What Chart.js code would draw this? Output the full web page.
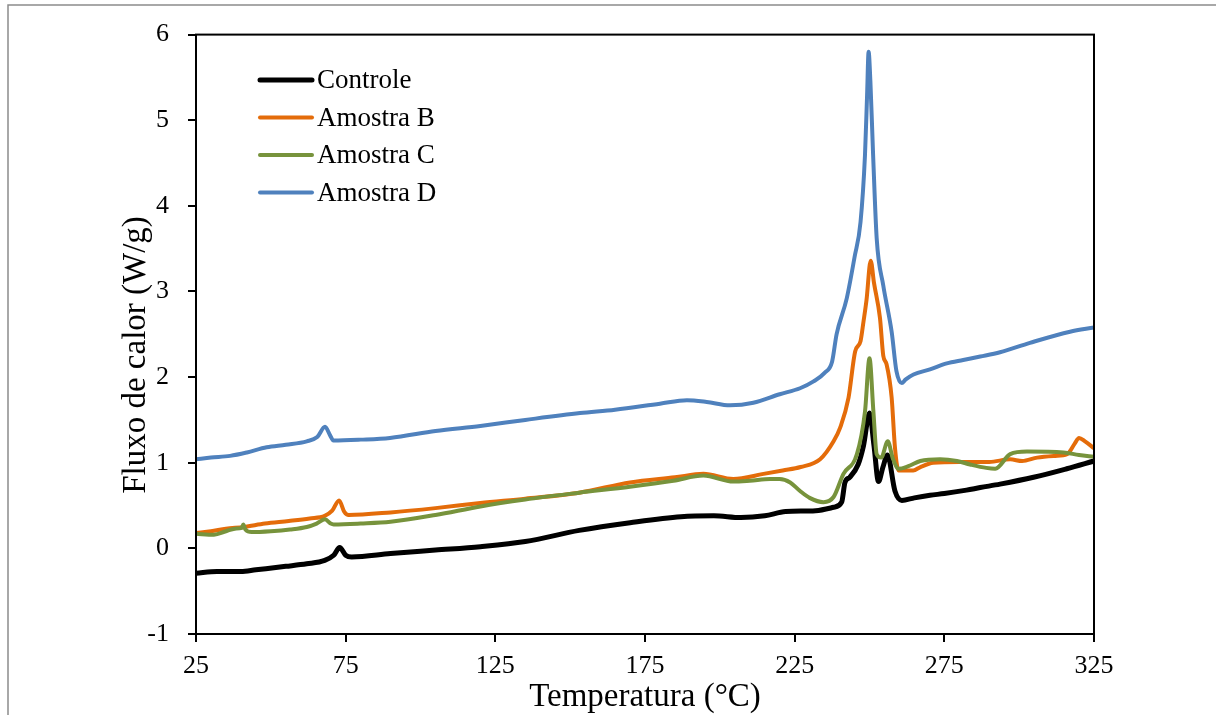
<!DOCTYPE html>
<html>
<head>
<meta charset="utf-8">
<script src="https://cdn.jsdelivr.net/npm/chart.js@4/dist/chart.umd.min.js"></script>
<style>
html,body{margin:0;padding:0;background:#fff;}
#wrap{width:1216px;height:715px;position:relative;}
</style>
</head>
<body>
<div id="wrap"><canvas id="c" width="1216" height="715"></canvas></div>
<script>
// ---- data ----
const seriesLabels = ["Controle", "Amostra B", "Amostra C", "Amostra D"];
const seriesColors = ["#000000", "#E46C0A", "#77933C", "#4F81BD"];

const controleTemp = [25,32,40,45,55,62,68,71,73,75,77,90,105,120,135,153,170,187,198,207,215,222,232,238,240.7,241.8,243.4,246.2,248,250,251.5,253,254.5,256,258.5,260.8,265,270.2,275,282.4,287,293.6,304.8,315.9,325];
const controleFlux = [-0.29,-0.27,-0.27,-0.25,-0.21,-0.18,-0.14,-0.08,0.01,-0.08,-0.10,-0.06,-0.02,0.02,0.08,0.21,0.30,0.37,0.38,0.36,0.38,0.43,0.44,0.48,0.54,0.77,0.83,0.98,1.20,1.58,1.20,0.78,0.95,1.09,0.67,0.56,0.59,0.62,0.64,0.68,0.71,0.75,0.83,0.93,1.02];

const amostraBTemp = [25,30,35,41,48,56,63,68,70.5,72.8,74.5,76,90,105,120,135,153,170,185,194.5,204.5,214.6,221,227,233.5,238,240.2,243,245.2,247,248,249,250.4,251.5,253.5,254.6,255.7,257.4,258.5,259.7,264.6,267,271.3,280,290,297,301,306,312,316,318.5,320,322,325];
const amostraBFlux = [0.18,0.20,0.23,0.25,0.29,0.32,0.35,0.38,0.44,0.56,0.43,0.39,0.42,0.47,0.53,0.58,0.65,0.77,0.83,0.87,0.81,0.87,0.91,0.95,1.04,1.25,1.41,1.76,2.30,2.42,2.65,2.90,3.36,3.10,2.69,2.25,2.15,1.76,1.18,0.91,0.91,0.95,1.00,1.01,1.01,1.04,1.02,1.06,1.08,1.10,1.22,1.29,1.25,1.17];

const amostraCTemp = [25,31,35,38,40.3,40.8,41.5,43.6,50,56.4,62,65.3,68.1,70,71,80,90,105,120,135,153,170,184.5,194.5,204.5,210,216.8,220,223.5,226.8,230,234.6,238,241.3,245.8,248.5,250,251.3,252.4,253.9,256.1,257.8,259.7,263,267,273.6,279.2,283.6,289,292,297,302.6,314.8,320,325];
const amostraCFlux = [0.17,0.16,0.20,0.23,0.24,0.28,0.22,0.19,0.20,0.22,0.25,0.29,0.34,0.29,0.28,0.29,0.31,0.39,0.49,0.57,0.65,0.72,0.79,0.85,0.78,0.79,0.81,0.81,0.77,0.67,0.59,0.54,0.60,0.87,1.10,1.60,2.22,1.60,1.10,1.06,1.25,1.05,0.93,0.96,1.02,1.04,1.02,0.98,0.94,0.93,1.10,1.13,1.12,1.09,1.07];

const amostraDTemp = [25,30,36.4,42,48.6,55,62,65.5,68.1,69.8,70.9,80,89.8,105,120,135,153.3,165,180,189,195.6,203.4,211.2,220,226.8,231.3,235,237.5,239,242.4,245,247,248.5,249.2,249.7,250.3,251.2,252.4,254.6,257.4,259,260.8,262,264.7,270.2,275.8,281.3,287,293.6,303.6,317,325];
const amostraDFlux = [1.04,1.06,1.08,1.12,1.18,1.21,1.25,1.30,1.42,1.32,1.26,1.27,1.29,1.37,1.43,1.50,1.58,1.62,1.69,1.73,1.71,1.67,1.70,1.80,1.87,1.95,2.05,2.18,2.50,2.92,3.40,3.81,4.60,5.30,5.80,5.45,4.60,3.62,3.07,2.53,2.07,1.93,1.97,2.03,2.09,2.16,2.20,2.24,2.29,2.40,2.53,2.58];

const xTicks = [25,75,125,175,225,275,325];
const yTicks = [-1,0,1,2,3,4,5,6];
const xTitle = "Temperatura (°C)";
const yTitle = "Fluxo de calor (W/g)";

// ---- build ----
const temps = [controleTemp, amostraBTemp, amostraCTemp, amostraDTemp];
const fluxes = [controleFlux, amostraBFlux, amostraCFlux, amostraDFlux];
const widths = [5, 4, 4, 4];
const FONT = "'Liberation Serif', 'Times New Roman', serif";

const datasets = seriesLabels.map((lab, i) => ({
  label: lab,
  data: temps[i].map((t, k) => ({x: t, y: fluxes[i][k]})),
  borderColor: seriesColors[i],
  backgroundColor: seriesColors[i],
  borderWidth: widths[i],
  pointRadius: 0,
  fill: false,
  cubicInterpolationMode: 'monotone',
  borderCapStyle: 'round',
  borderJoinStyle: 'round'
})).reverse();

const decor = {
  id: 'decor',
  beforeDraw(chart) {
    const ctx = chart.ctx;
    ctx.save();
    ctx.fillStyle = '#fff';
    ctx.fillRect(0, 0, chart.width, chart.height);
    ctx.strokeStyle = '#8c8c8c';
    ctx.lineWidth = 1.5;
    ctx.beginPath();
    ctx.moveTo(8, chart.height);
    ctx.lineTo(8, 5);
    ctx.lineTo(chart.width, 5);
    ctx.stroke();
    ctx.restore();
  },
  afterDraw(chart) {
    const ctx = chart.ctx;
    const a = chart.chartArea;
    ctx.save();
    ctx.strokeStyle = '#000';
    ctx.lineWidth = 2;
    ctx.strokeRect(a.left, a.top, a.right - a.left, a.bottom - a.top);
    // y title
    ctx.fillStyle = '#000';
    ctx.font = '33px ' + FONT;
    ctx.textAlign = 'center';
    ctx.textBaseline = 'middle';
    ctx.translate(136, 355);
    ctx.rotate(-Math.PI / 2);
    ctx.fillText(yTitle, 0, 0);
    ctx.restore();
    // legend
    ctx.save();
    ctx.font = '27px ' + FONT;
    ctx.textBaseline = 'middle';
    ctx.textAlign = 'left';
    const rowY = [80, 117.5, 155, 192.5];
    seriesLabels.forEach((lab, i) => {
      const y = rowY[i];
      ctx.strokeStyle = seriesColors[i];
      ctx.lineWidth = widths[i];
      ctx.lineCap = 'round';
      ctx.beginPath();
      ctx.moveTo(260, y);
      ctx.lineTo(312, y);
      ctx.stroke();
      ctx.fillStyle = '#000';
      ctx.fillText(lab, 317, y + 1);
    });
    ctx.restore();
  }
};

new Chart(document.getElementById('c'), {
  type: 'line',
  data: { datasets },
  options: {
    responsive: false,
    animation: false,
    events: [],
    layout: { padding: { left: 0, right: 122, top: 31, bottom: 0 } },
    plugins: { legend: { display: false }, tooltip: { enabled: false } },
    scales: {
      x: {
        type: 'linear',
        min: 25, max: 325,
        afterFit(s) { s.height = 81; },
        afterBuildTicks(s) { s.ticks = xTicks.map(v => ({value: v})); },
        grid: { display: true, drawOnChartArea: false, drawTicks: true, tickLength: 8, color: '#000', lineWidth: 2 },
        border: { display: true, color: '#000', width: 2 },
        ticks: { color: '#000', font: { family: FONT, size: 26 }, padding: 9, maxRotation: 0 },
        title: { display: true, text: xTitle, color: '#000', font: { family: FONT, size: 33, lineHeight: 1 }, padding: { top: 0, bottom: 1 } }
      },
      y: {
        type: 'linear',
        min: -1, max: 6,
        afterFit(s) { s.width = 196; },
        afterBuildTicks(s) { s.ticks = yTicks.map(v => ({value: v})); },
        grid: { display: true, drawOnChartArea: false, drawTicks: true, tickLength: 8, color: '#000', lineWidth: 2 },
        border: { display: true, color: '#000', width: 2 },
        ticks: { color: '#000', font: { family: FONT, size: 26 }, padding: 19 },
        title: { display: false }
      }
    }
  },
  plugins: [decor]
});
</script>
</body>
</html>
